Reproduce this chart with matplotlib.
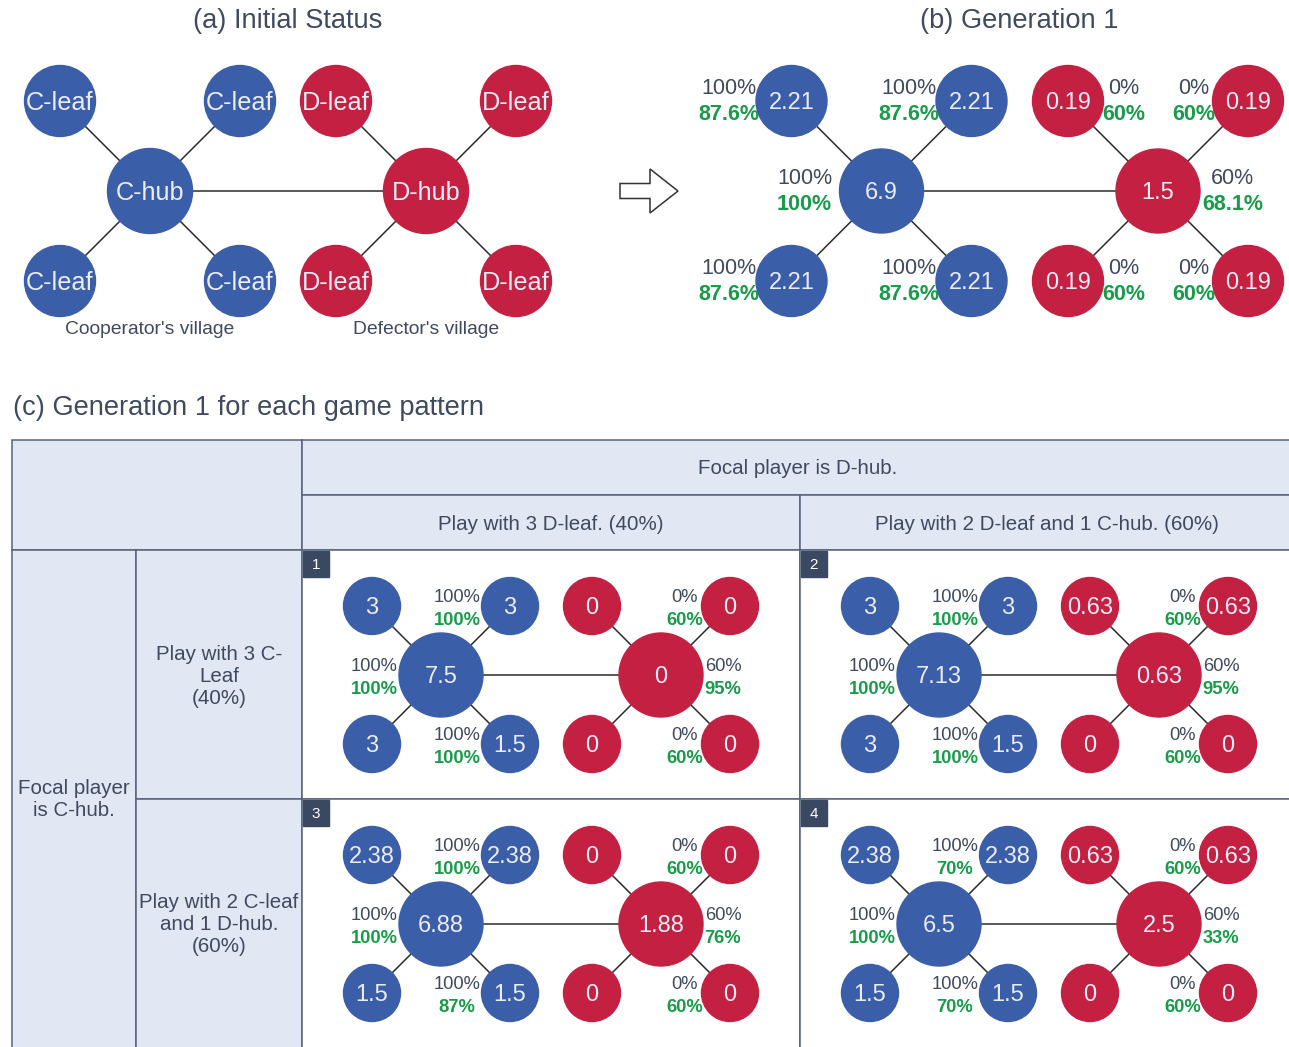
import matplotlib.pyplot as plt
from matplotlib.patches import Circle, Rectangle, FancyArrow

plt.rcParams['font.family'] = ['Liberation Sans', 'DejaVu Sans']

# ---- data (leaves are ordered top-left, top-right, bottom-left, bottom-right) ----
panel_titles = ['(a) Initial Status', '(b) Generation 1', '(c) Generation 1 for each game pattern']
village_names = ["Cooperator's village", "Defector's village"]

init_blue_leaves = ['C-leaf', 'C-leaf', 'C-leaf', 'C-leaf']
init_blue_hub = 'C-hub'
init_red_leaves = ['D-leaf', 'D-leaf', 'D-leaf', 'D-leaf']
init_red_hub = 'D-hub'

gen1_blue_leaves = ['2.21', '2.21', '2.21', '2.21']
gen1_blue_hub = '6.9'
gen1_red_leaves = ['0.19', '0.19', '0.19', '0.19']
gen1_red_hub = '1.5'
gen1_blue_leaf_pct = [('100%', '87.6%'), ('100%', '87.6%'), ('100%', '87.6%'), ('100%', '87.6%')]
gen1_blue_hub_pct = ('100%', '100%')
gen1_red_leaf_pct = [('0%', '60%'), ('0%', '60%'), ('0%', '60%'), ('0%', '60%')]
gen1_red_hub_pct = ('60%', '68.1%')

col_group = 'Focal player is D-hub.'
col_headers = ['Play with 3 D-leaf. (40%)', 'Play with 2 D-leaf and 1 C-hub. (60%)']
row_group = 'Focal player\nis C-hub.'
row_headers = ['Play with 3 C-\nLeaf\n(40%)', 'Play with 2 C-leaf\nand 1 D-hub.\n(60%)']

cell_ids = ['1', '2', '3', '4']
cell_blue_leaves = [['3', '3', '3', '1.5'], ['3', '3', '3', '1.5'],
                    ['2.38', '2.38', '1.5', '1.5'], ['2.38', '2.38', '1.5', '1.5']]
cell_blue_hub = ['7.5', '7.13', '6.88', '6.5']
cell_red_leaves = [['0', '0', '0', '0'], ['0.63', '0.63', '0', '0'],
                   ['0', '0', '0', '0'], ['0.63', '0.63', '0', '0']]
cell_red_hub = ['0', '0.63', '1.88', '2.5']
cell_blue_tr_pct = [('100%', '100%'), ('100%', '100%'), ('100%', '100%'), ('100%', '70%')]
cell_blue_hub_pct = [('100%', '100%'), ('100%', '100%'), ('100%', '100%'), ('100%', '100%')]
cell_blue_br_pct = [('100%', '100%'), ('100%', '100%'), ('100%', '87%'), ('100%', '70%')]
cell_red_tr_pct = [('0%', '60%'), ('0%', '60%'), ('0%', '60%'), ('0%', '60%')]
cell_red_hub_pct = [('60%', '95%'), ('60%', '95%'), ('60%', '76%'), ('60%', '33%')]
cell_red_br_pct = [('0%', '60%'), ('0%', '60%'), ('0%', '60%'), ('0%', '60%')]

# ---- style ----
BLUE = '#3b5ea8'
RED = '#c42142'
GREEN = '#179c48'
GRAY = '#3e4a5e'
NODE_TXT = '#ececf6'
EDGE = '#2b2b2b'
LINE = '#56637a'
FILL = '#e1e7f3'
BADGE = '#3a4862'

fig = plt.figure(figsize=(12.89, 10.47), dpi=100)
ax = fig.add_axes([0, 0, 1, 1])
ax.set_xlim(0, 1289)
ax.set_ylim(1047, 0)
ax.axis('off')


def label(x, y, s, size, color=GRAY, weight='normal', ha='center'):
    # y is the middle of the capitals, so push the baseline down
    ax.text(x, y + 0.358 * size * 100 / 72, s, fontsize=size, color=color,
            weight=weight, ha=ha, va='baseline', zorder=4)


def pct_pair(x, base, pair, size, gap):
    ax.text(x, base, pair[0], fontsize=size, color=GRAY, ha='center', va='baseline', zorder=4)
    ax.text(x, base + gap, pair[1], fontsize=size, color=GREEN, weight='bold',
            ha='center', va='baseline', zorder=4)


def star(hx, hy, hub, leaves, color, off, r_leaf, r_hub, size):
    pos = [(hx - off, hy - off), (hx + off, hy - off), (hx - off, hy + off), (hx + off, hy + off)]
    for (lx, ly), s in zip(pos, leaves):
        ax.plot([hx, lx], [hy, ly], color=EDGE, lw=1.1, zorder=1)
        ax.add_patch(Circle((lx, ly), r_leaf, color=color, zorder=2))
        label(lx, ly, s, size, NODE_TXT)
    ax.add_patch(Circle((hx, hy), r_hub, color=color, zorder=2))
    label(hx, hy, hub, size, NODE_TXT)
    return pos


# ---- (a) initial status ----
label(288, 18, panel_titles[0], 19.6)
ax.plot([150, 426], [191, 191], color=EDGE, lw=1.1, zorder=1)
star(150, 191, init_blue_hub, init_blue_leaves, BLUE, 90, 35.5, 42.5, 18.2)
star(426, 191, init_red_hub, init_red_leaves, RED, 90, 35.5, 42.5, 18.2)
label(150, 327, village_names[0], 13.9)
label(426, 327, village_names[1], 13.9)

ax.add_patch(FancyArrow(620, 191, 58, 0, width=15, head_width=44, head_length=28,
                        length_includes_head=True, fc='white', ec='#333333', lw=1.1))

# ---- (b) generation 1 ----
label(1019, 18, panel_titles[1], 19.6)
bh, rh = 881.5, 1158
ax.plot([bh, rh], [191, 191], color=EDGE, lw=1.1, zorder=1)
bpos = star(bh, 191, gen1_blue_hub, gen1_blue_leaves, BLUE, 90, 35.5, 42, 17)
rpos = star(rh, 191, gen1_red_hub, gen1_red_leaves, RED, 90, 35.5, 42, 17)
for (lx, ly), p in zip(bpos, gen1_blue_leaf_pct):
    pct_pair(lx - 62.5, ly - 7, p, 15.5, 26.5)
pct_pair(bh - 77, 191 - 7, gen1_blue_hub_pct, 15.5, 26.5)
for i, ((lx, ly), p) in enumerate(zip(rpos, gen1_red_leaf_pct)):
    dx = 56 if i % 2 == 0 else -54
    pct_pair(lx + dx, ly - 7, p, 15.5, 26.5)
pct_pair(rh + 74.5, 191 - 7, gen1_red_hub_pct, 15.5, 26.5)

# ---- (c) table ----
ax.text(13, 405 + 0.358 * 19.6 * 100 / 72, panel_titles[2], fontsize=19.6, color=GRAY,
        ha='left', va='baseline')

xl, xc1, xc2, xm, xr = 12, 136, 302, 800, 1300
yt, yh, yb, ym, ybot = 440, 495, 550, 799, 1060


def cell(x0, y0, x1, y1, fc):
    ax.add_patch(Rectangle((x0, y0), x1 - x0, y1 - y0, fc=fc, ec=LINE, lw=1.1, zorder=0))


cell(xl, yt, xc2, yb, FILL)
cell(xc2, yt, xr, yh, FILL)
cell(xc2, yh, xm, yb, FILL)
cell(xm, yh, xr, yb, FILL)
cell(xl, yb, xc1, ybot, FILL)
cell(xc1, yb, xc2, ym, FILL)
cell(xc1, ym, xc2, ybot, FILL)
for x0, x1 in [(xc2, xm), (xm, xr)]:
    for y0, y1 in [(yb, ym), (ym, ybot)]:
        cell(x0, y0, x1, y1, 'white')

label(798, 467, col_group, 14.8)
label((xc2 + xm) / 2, 522.5, col_headers[0], 14.8)
label(1047, 522.5, col_headers[1], 14.8)
ax.text(74, 800, row_group, fontsize=14.8, color=GRAY, ha='center', va='center', linespacing=1.2)
ax.text(219, 676, row_headers[0], fontsize=14.8, color=GRAY, ha='center', va='center', linespacing=1.2)
ax.text(219, 925, row_headers[1], fontsize=14.8, color=GRAY, ha='center', va='center', linespacing=1.2)

origins = [(xc2, yb), (xm, yb), (xc2, ym), (xm, ym)]
for k, (ox, oy) in enumerate(origins):
    ax.add_patch(Rectangle((ox + 1, oy + 1), 26, 26, color=BADGE, zorder=3))
    label(ox + 14, oy + 14, cell_ids[k], 11, 'white')
    hx, rx, hy = ox + 139, ox + 359, oy + 125
    ax.plot([hx, rx], [hy, hy], color=EDGE, lw=1.1, zorder=1)
    bp = star(hx, hy, cell_blue_hub[k], cell_blue_leaves[k], BLUE, 69, 28.5, 42, 17)
    rp = star(rx, hy, cell_red_hub[k], cell_red_leaves[k], RED, 69, 28.5, 42, 17)
    pct_pair(hx + 16, bp[1][1] - 4.3, cell_blue_tr_pct[k], 13.2, 23.3)
    pct_pair(hx + 16, bp[3][1] - 4.3, cell_blue_br_pct[k], 13.2, 23.3)
    pct_pair(hx - 67, hy - 4.3, cell_blue_hub_pct[k], 13.2, 23.3)
    pct_pair(rx + 24, rp[1][1] - 4.3, cell_red_tr_pct[k], 13.2, 23.3)
    pct_pair(rx + 24, rp[3][1] - 4.3, cell_red_br_pct[k], 13.2, 23.3)
    pct_pair(rx + 62, hy - 4.3, cell_red_hub_pct[k], 13.2, 23.3)

fig.savefig('out.png', dpi=100)
